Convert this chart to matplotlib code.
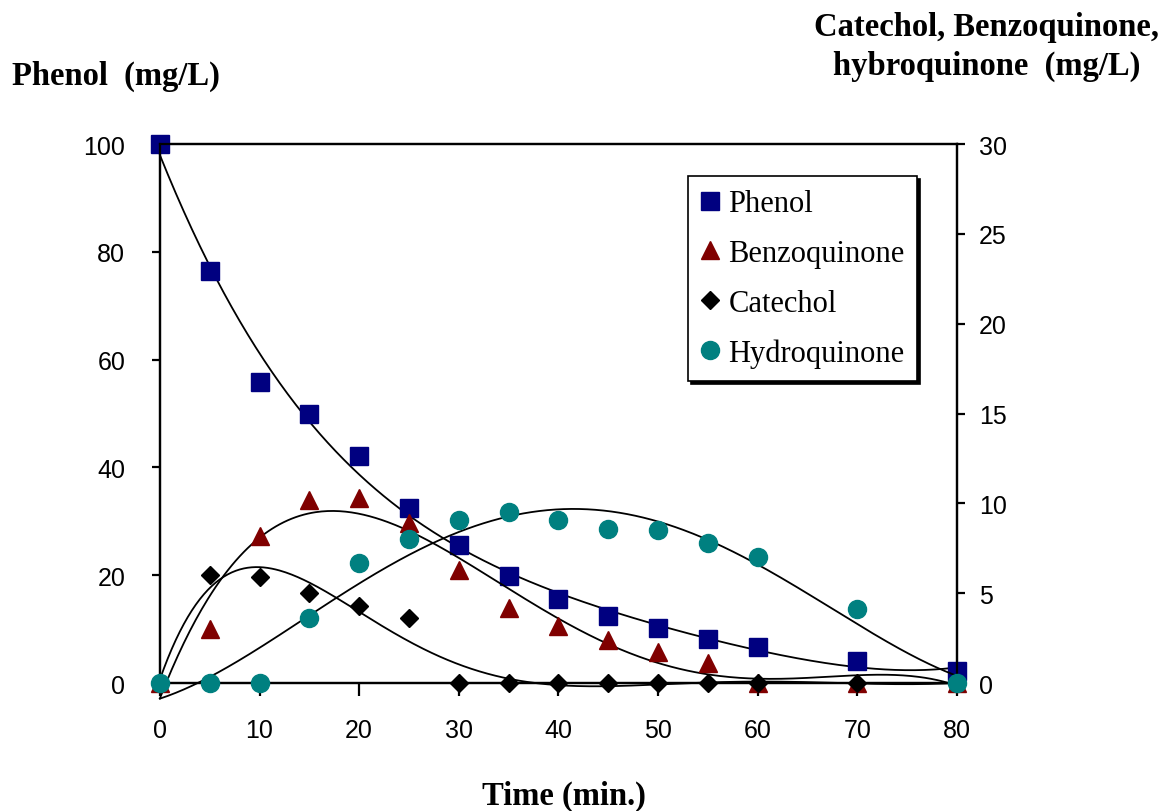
import numpy as np
import matplotlib
matplotlib.use('Agg')
import matplotlib.pyplot as plt

# datos
tiempo = [0, 5, 10, 15, 20, 25, 30, 35, 40, 45, 50, 55, 60, 70, 80]
phenol = [100, 76.4, 55.8, 49.9, 42.1, 32.5, 25.7, 19.8, 15.6, 12.4, 10.2, 8.2, 6.7, 4.1, 2.3]
benzoquinone = [0, 3.0, 8.2, 10.2, 10.3, 8.9, 6.3, 4.2, 3.2, 2.4, 1.7, 1.1, 0, 0, 0]
catechol = [0, 6.0, 5.9, 5.0, 4.3, 3.6, 0, 0, 0, 0, 0, 0, 0, 0, 0]
hydroquinone = [0, 0, 0, 3.6, 6.7, 8.0, 9.1, 9.5, 9.1, 8.6, 8.5, 7.8, 7.0, 4.1, 0]

x_ticks = [0, 10, 20, 30, 40, 50, 60, 70, 80]
y_left_ticks = [0, 20, 40, 60, 80, 100]
y_right_ticks = [0, 5, 10, 15, 20, 25, 30]

serif = 'Liberation Serif'
sans = 'Liberation Sans'

fig = plt.figure(figsize=(11.67, 8.12), dpi=100)
ax = fig.add_axes([0.137, 0.1576, 0.683, 0.6638])
ax2 = ax.twinx()

t = np.array(tiempo, dtype=float)
xs = np.linspace(0, 80, 400)

# curvas de tendencia (ajuste polinomico)
def tendencia(eje, y, grado):
    c = np.polyfit(t, np.array(y, dtype=float), grado)
    eje.plot(xs, np.polyval(c, xs), color='black', lw=1.3, zorder=2, clip_on=False)

tendencia(ax, phenol, 4)
tendencia(ax2, benzoquinone, 5)
tendencia(ax2, catechol, 6)
tendencia(ax2, hydroquinone, 4)

h1, = ax.plot(tiempo, phenol, 's', color='#000080', ms=13, ls='none', label='Phenol', zorder=3, clip_on=False)
h2, = ax2.plot(tiempo, benzoquinone, '^', color='#800000', ms=13, ls='none', label='Benzoquinone', zorder=3, clip_on=False)
h3, = ax2.plot(tiempo, catechol, 'D', color='black', ms=9, ls='none', label='Catechol', zorder=3, clip_on=False)
h4, = ax2.plot(tiempo, hydroquinone, 'o', color='#008080', ms=13, ls='none', label='Hydroquinone', zorder=3, clip_on=False)

ax.set_xlim(0, 80)
ax.set_ylim(0, 100)
ax2.set_ylim(0, 30)
ax.set_xticks(x_ticks)
ax.set_yticks(y_left_ticks)
ax2.set_yticks(y_right_ticks)

for a in (ax, ax2):
    for s in a.spines.values():
        s.set_linewidth(1.6)
ax.tick_params(axis='x', direction='out', length=9, width=1.6, pad=16, labelsize=18)
ax.tick_params(axis='y', direction='out', length=6, width=1.6, pad=19, labelsize=18)
ax2.tick_params(axis='y', direction='out', length=6, width=1.6, pad=10, labelsize=18)
for lab in ax.get_xticklabels() + ax.get_yticklabels() + ax2.get_yticklabels():
    lab.set_fontfamily(sans)

leg = ax2.legend(handles=[h1, h2, h3, h4], loc='upper right', bbox_to_anchor=(0.962, 0.957),
                 prop={'family': serif, 'size': 22}, fancybox=False, edgecolor='black',
                 framealpha=1, shadow={'color': 'black', 'alpha': 1}, handletextpad=0.3,
                 labelspacing=0.68, borderpad=0.42, borderaxespad=0.3, handlelength=0.6)
leg.get_frame().set_linewidth(1.2)

fig.text(12 / 1167, 1 - 76 / 812, 'Phenol  (mg/L)', family=serif, weight='bold', size=23.5,
         ha='left', va='center')
fig.text(987 / 1167, 1 - 47 / 812, 'Catechol, Benzoquinone,\nhybroquinone  (mg/L)', family=serif,
         weight='bold', size=23.5, ha='center', va='center', linespacing=1.35)
fig.text(564 / 1167, 1 - 796 / 812, 'Time (min.)', family=serif, weight='bold', size=23.5,
         ha='center', va='center')

fig.savefig('out.png', dpi=100)
